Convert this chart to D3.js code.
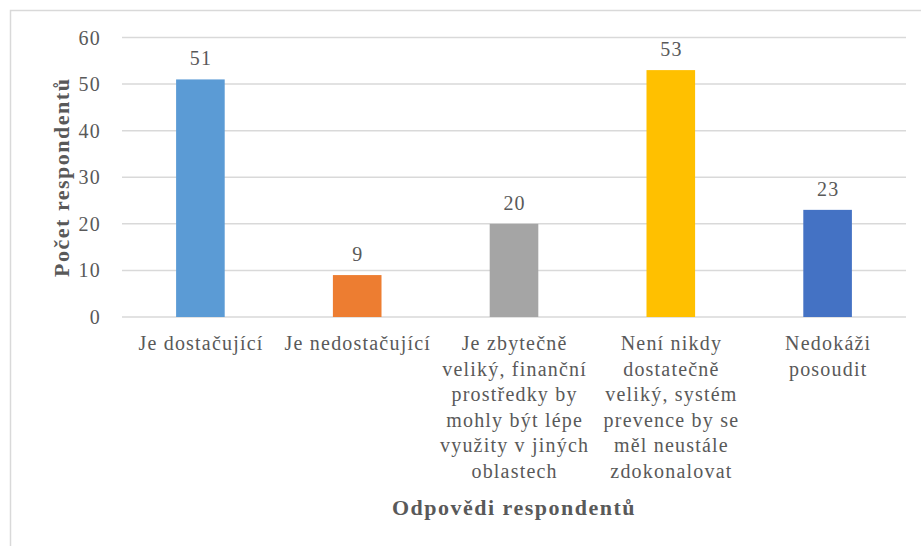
<!DOCTYPE html>
<html>
<head>
<meta charset="utf-8">
<script src="https://cdn.jsdelivr.net/npm/d3@7"></script>
<style>
body { margin: 0; background: #fff; }
</style>
</head>
<body>
<svg id="chart" width="921" height="546"></svg>
<script>
var categories = [
	["Je dostačující"],
	["Je nedostačující"],
	["Je zbytečně", "veliký, finanční", "prostředky by", "mohly být lépe", "využity v jiných", "oblastech"],
	["Není nikdy", "dostatečně", "veliký, systém", "prevence by se", "měl neustále", "zdokonalovat"],
	["Nedokáži", "posoudit"]
];
var values = [51, 9, 20, 53, 23];
var colors = ["#5b9bd5", "#ed7d31", "#a5a5a5", "#ffc000", "#4472c4"];
var yTicks = [0, 10, 20, 30, 40, 50, 60];

var FONT = "'Liberation Serif', Tinos, 'Times New Roman', 'DejaVu Serif', serif";
var TXT = "#595959";

var svg = d3.select("#chart");
var margin = {left: 122, right: 15, top: 37.5, bottom: 229};
var w = 921, h = 546;

// frame (only top and left edges show in the crop)
svg.append("path")
	.attr("d", "M10.5,546V10.5H921")
	.attr("fill", "none")
	.attr("stroke", "#d9d9d9")
	.attr("stroke-width", 1.5);

var x = d3.scaleBand()
	.domain(d3.range(values.length))
	.range([margin.left, w - margin.right]);

var y = d3.scaleLinear()
	.domain([0, 60])
	.range([h - margin.bottom, margin.top]);

var g = svg.append("g")
	.attr("font-family", FONT)
	.attr("fill", TXT);

// gridlines
g.selectAll("line.grid")
	.data(yTicks)
	.enter()
	.append("line")
	.attr("class", "grid")
	.attr("x1", margin.left)
	.attr("x2", w - margin.right)
	.attr("y1", function(d) { return y(d); })
	.attr("y2", function(d) { return y(d); })
	.attr("stroke", "#d9d9d9")
	.attr("stroke-width", 1.5);

// tick labels
g.selectAll("text.tick")
	.data(yTicks)
	.enter()
	.append("text")
	.attr("class", "tick")
	.attr("x", 101)
	.attr("y", function(d) { return y(d); })
	.attr("dy", "0.35em")
	.attr("text-anchor", "end")
	.attr("font-size", 20)
	.attr("letter-spacing", 1.2)
	.text(function(d) { return d; });

var barW = x.bandwidth() * 0.31;

g.selectAll("rect")
	.data(values)
	.enter()
	.append("rect")
	.attr("x", function(d, i) { return x(i) + x.bandwidth() / 2 - barW / 2; })
	.attr("y", function(d) { return y(d); })
	.attr("width", barW)
	.attr("height", function(d) { return y(0) - y(d); })
	.attr("fill", function(d, i) { return colors[i]; });

// data labels
g.selectAll("text.val")
	.data(values)
	.enter()
	.append("text")
	.attr("class", "val")
	.attr("x", function(d, i) { return x(i) + x.bandwidth() / 2 + 0.6; })
	.attr("y", function(d) { return y(d) - 14; })
	.attr("text-anchor", "middle")
	.attr("font-size", 20)
	.attr("letter-spacing", 1.2)
	.text(function(d) { return d; });

// category labels
var cat = g.selectAll("text.cat")
	.data(categories)
	.enter()
	.append("text")
	.attr("class", "cat")
	.attr("text-anchor", "middle")
	.attr("font-size", 20)
	.attr("letter-spacing", 1.2)
	.attr("transform", function(d, i) { return "translate(" + (x(i) + x.bandwidth() / 2 + 0.6) + ",350)"; });

cat.selectAll("tspan")
	.data(function(d) { return d; })
	.enter()
	.append("tspan")
	.attr("x", 0)
	.attr("y", function(d, i) { return i * 25.5; })
	.text(function(d) { return d; });

// axis titles
g.append("text")
	.attr("x", (margin.left + w - margin.right) / 2)
	.attr("y", 515)
	.attr("text-anchor", "middle")
	.attr("font-size", 22)
	.attr("letter-spacing", 1.5)
	.attr("font-weight", "bold")
	.text("Odpovědi respondentů");

g.append("text")
	.attr("transform", "translate(69," + ((y(0) + y(60)) / 2) + ") rotate(-90)")
	.attr("text-anchor", "middle")
	.attr("font-size", 22)
	.attr("letter-spacing", 1.5)
	.attr("font-weight", "bold")
	.text("Počet respondentů");
</script>
</body>
</html>
